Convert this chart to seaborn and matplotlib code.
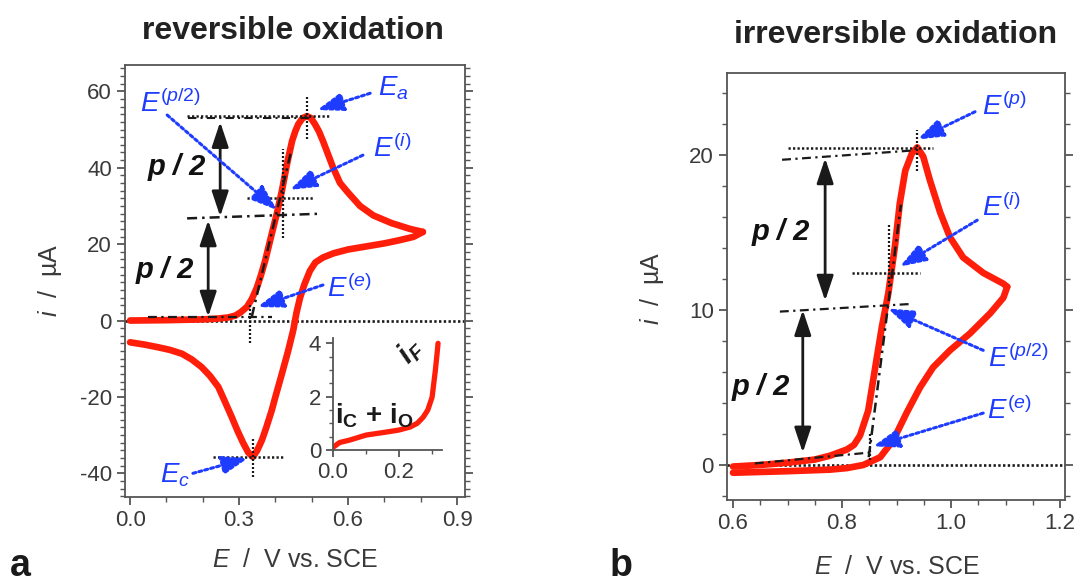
import matplotlib
matplotlib.use("Agg")
import matplotlib.pyplot as plt
import seaborn as sns
from matplotlib.ticker import MultipleLocator, FormatStrFormatter

# ---------------- data ----------------
# panel a : reversible oxidation (E in V vs SCE, i in uA)
a_fwd_E = [0.00, 0.05, 0.10, 0.15, 0.20, 0.24, 0.27, 0.29, 0.305, 0.322, 0.335, 0.349, 0.36,
           0.372, 0.39, 0.404, 0.418, 0.432, 0.446, 0.455, 0.463, 0.475, 0.487, 0.498, 0.509,
           0.52, 0.531, 0.545, 0.559, 0.578, 0.60, 0.633, 0.67, 0.72, 0.77, 0.806]
a_fwd_i = [0.0, 0.05, 0.1, 0.2, 0.3, 0.5, 0.8, 1.3, 2.2, 3.6, 5.6, 8.6, 11.8,
           15.7, 22.7, 28.0, 34.0, 41.0, 47.0, 49.6, 51.4, 53.0, 53.5, 53.0, 51.4,
           49.5, 47.0, 43.5, 40.0, 36.0, 33.5, 30.0, 27.5, 25.5, 24.0, 23.2]
a_rev_E = [0.806, 0.78, 0.74, 0.70, 0.65, 0.60, 0.56, 0.531, 0.51, 0.495, 0.48, 0.468, 0.458,
           0.449, 0.435, 0.418, 0.40, 0.39, 0.375, 0.363, 0.35, 0.338, 0.325, 0.311, 0.295,
           0.28, 0.26, 0.243, 0.22, 0.197, 0.17, 0.143, 0.11, 0.077, 0.04, 0.0]
a_rev_i = [23.2, 21.9, 21.0, 20.2, 19.4, 18.6, 17.6, 16.5, 15.2, 13.0, 9.5, 6.0, 2.0,
           -2.6, -8.0, -13.9, -20.0, -23.5, -28.0, -31.3, -34.0, -35.7, -34.5, -32.0, -28.7,
           -25.3, -21.0, -17.4, -14.5, -12.2, -10.2, -8.7, -7.7, -7.0, -6.3, -5.7]
# inset of panel a : i_C + i_O and i_F
ins_E = [0.0, 0.02, 0.05, 0.10, 0.16, 0.20, 0.233, 0.255, 0.273, 0.287, 0.30, 0.31, 0.315, 0.318]
ins_i = [0.1, 0.28, 0.37, 0.56, 0.67, 0.75, 0.86, 1.0, 1.23, 1.5, 1.98, 3.0, 3.6, 4.0]

# panel b : irreversible oxidation
b_fwd_E = [0.60, 0.65, 0.70, 0.75, 0.778, 0.809, 0.822, 0.833, 0.848, 0.86, 0.873, 0.885, 0.897,
           0.906, 0.916, 0.928, 0.938, 0.949, 0.961, 0.98, 0.998, 1.022, 1.059, 1.096, 1.103]
b_fwd_i = [-0.1, 0.0, 0.15, 0.35, 0.6, 1.0, 1.3, 1.9, 3.5, 6.1, 8.9, 11.1, 14.1,
           16.9, 19.0, 20.1, 20.5, 19.9, 18.4, 16.3, 14.7, 13.4, 12.4, 11.7, 11.5]
b_rev_E = [1.103, 1.096, 1.072, 1.035, 0.998, 0.967, 0.943, 0.919, 0.894, 0.87, 0.839, 0.809,
           0.778, 0.70, 0.60]
b_rev_i = [11.5, 10.8, 9.8, 8.5, 7.4, 6.3, 5.0, 3.4, 1.6, 0.5, 0.0, -0.2, -0.3, -0.4, -0.5]

a_xticks = [0.0, 0.3, 0.6, 0.9]
a_yticks = [-40, -20, 0, 20, 40, 60]
b_xticks = [0.6, 0.8, 1.0, 1.2]
b_yticks = [0, 10, 20]
ins_xticks = [0.0, 0.2]
ins_yticks = [0, 2, 4]

titles = ["reversible oxidation", "irreversible oxidation"]
xlab = r"$E$  /  V vs. SCE"
ylab = r"$i$  /  µA"

# ---------------- style ----------------
sns.set_theme(style="ticks")
plt.rcParams["font.family"] = ["Liberation Sans", "DejaVu Sans"]
plt.rcParams["mathtext.fontset"] = "custom"
plt.rcParams["mathtext.rm"] = "Liberation Sans"
plt.rcParams["mathtext.it"] = "Liberation Sans:italic"
plt.rcParams["mathtext.bf"] = "Liberation Sans:bold"
plt.rcParams["mathtext.sf"] = "Liberation Sans:bold:italic"
plt.rcParams["axes.unicode_minus"] = False

RED = "#FF1E0A"
BLUE = "#1E3CFF"
GREY = "#555555"
TXT = "#3a3a3a"
TICKFS = 16

W, H = 1076, 582
fig = plt.figure(figsize=(W / 100, H / 100), dpi=100)


def box(l, t, r, b):
    return [l / W, 1 - b / H, (r - l) / W, (b - t) / H]


axA = fig.add_axes(box(125, 65, 465, 497))
axB = fig.add_axes(box(727, 73, 1065, 500))
axI = fig.add_axes(box(333, 338, 442, 450))


def style(ax, right=True):
    for s in ax.spines.values():
        s.set_color(GREY)
        s.set_linewidth(1.3)
    ax.tick_params(which="both", direction="out", color=GREY, labelcolor=TXT,
                   labelsize=TICKFS, left=True, right=right, top=False, bottom=True)
    ax.tick_params(which="major", length=6, width=1.3)
    ax.tick_params(which="minor", length=3.5, width=1.0)


DOT = (0, (0.9, 0.9))
DASHDOT = (0, (4, 2, 1, 2))


def hline(ax, y, x0, x1, ls=DOT, lw=1.8, c="k", y1=None):
    ax.plot([x0, x1], [y, y if y1 is None else y1], ls=ls, lw=lw, color=c, zorder=4)


def vline(ax, x, y0, y1, ls=DOT, lw=1.6, c="k"):
    ax.plot([x, x], [y0, y1], ls=ls, lw=lw, color=c, zorder=4)


def barrow(ax, x, y0, y1):
    ax.annotate("", xy=(x, y1), xytext=(x, y0),
                arrowprops=dict(arrowstyle="<|-|>,head_length=0.9,head_width=0.3",
                                color="k", lw=2, shrinkA=0, shrinkB=0, mutation_scale=17),
                zorder=5)


def blue(ax, label, tx, ty, x0, y0, x1, y1, fs=20):
    ax.text(tx, ty, label, color=BLUE, fontsize=fs, ha="left", va="baseline", zorder=6)
    ax.annotate("", xy=(x1, y1), xytext=(x0, y0),
                arrowprops=dict(arrowstyle="-|>,head_length=1.0,head_width=0.35",
                                color=BLUE, lw=2.2, linestyle=(0, (1, 1)),
                                shrinkA=0, shrinkB=0, mutation_scale=16),
                zorder=6)


# ---------------- panel a ----------------
sns.lineplot(x=a_fwd_E, y=a_fwd_i, ax=axA, sort=False, estimator=None, color=RED, lw=4.8, zorder=3)
sns.lineplot(x=a_rev_E, y=a_rev_i, ax=axA, sort=False, estimator=None, color=RED, lw=4.8, zorder=3)
axA.set_xlim(-0.014, 0.922)
axA.set_ylim(-46.2, 66.9)
axA.set_xticks(a_xticks)
axA.set_yticks(a_yticks)
axA.xaxis.set_minor_locator(MultipleLocator(0.1))
axA.yaxis.set_minor_locator(MultipleLocator(2))
axA.xaxis.set_major_formatter(FormatStrFormatter("%.1f"))
axA.set_xlabel("")
axA.set_ylabel("")
style(axA)

pa = max(a_fwd_i)
Epa = a_fwd_E[a_fwd_i.index(pa)]
pc = min(a_rev_i)
Epc = a_rev_E[a_rev_i.index(pc)]

axA.axhline(0, ls=DOT, lw=1.9, color="k", zorder=2)
hline(axA, pa, 0.157, 0.55)
hline(axA, pa - 0.5, 0.16, 0.50, ls=DASHDOT, lw=1.5)
vline(axA, Epa, pa - 6, pa + 5.5)
hline(axA, pa / 2, 0.157, 0.52, ls=DASHDOT, lw=1.8, y1=pa / 2 + 1.2)
hline(axA, 32.1, 0.322, 0.504)
vline(axA, 0.421, 21.7, 45)
axA.plot([0.335, 0.445], [1.0, 45.0], ls=DASHDOT, lw=1.8, color="k", zorder=4)
hline(axA, 0.8, 0.05, 0.39, ls=DASHDOT, lw=1.6)
vline(axA, 0.33, -6, 4)
hline(axA, pc, 0.228, 0.421)
vline(axA, Epc, -41, -30.5)
barrow(axA, 0.248, pa - 1.5, pa / 2 + 0.5)
barrow(axA, 0.215, pa / 2 - 0.5, 1.0)
axA.text(0.047, 38.1, "p / 2", fontsize=21, fontweight="bold", style="italic", color="#111111", zorder=6)
axA.text(0.014, 11.1, "p / 2", fontsize=21, fontweight="bold", style="italic", color="#111111", zorder=6)

blue(axA, r"$E^{(p/2)}$", 0.028, 54.6, 0.102, 53.8, 0.405, 28.9)
blue(axA, r"$E_a$", 0.683, 59.0, 0.661, 59.5, 0.515, 55.1)
blue(axA, r"$E^{(i)}$", 0.669, 42.8, 0.641, 43.3, 0.44, 34.2)
blue(axA, r"$E^{(e)}$", 0.542, 6.2, 0.531, 9.3, 0.35, 3.5)
blue(axA, r"$E_c$", 0.083, -42.3, 0.173, -40.0, 0.325, -36.0)

# inset
sns.lineplot(x=ins_E, y=ins_i, ax=axI, sort=False, estimator=None, color=RED, lw=3.8)
axI.set_xlim(0, 0.33)
axI.set_ylim(0, 4.2)
axI.set_xticks(ins_xticks)
axI.set_yticks(ins_yticks)
axI.xaxis.set_minor_locator(MultipleLocator(0.1))
axI.yaxis.set_minor_locator(MultipleLocator(0.5))
axI.xaxis.set_major_formatter(FormatStrFormatter("%.1f"))
axI.set_xlabel("")
axI.set_ylabel("")
axI.patch.set_alpha(0)
style(axI, right=False)
axI.spines["top"].set_visible(False)
axI.spines["right"].set_visible(False)
axI.tick_params(which="major", length=5)
axI.tick_params(which="minor", length=3)
axI.text(0.005, 1.0, r"$\mathbf{i_{C}}$ + $\mathbf{i_{O}}$", fontsize=20, fontweight="bold",
         ha="left", va="baseline", color="#1a1a1a")
axI.text(0.235, 3.72, r"$\mathsf{i_{F}}$", fontsize=21, ha="center", va="center",
         rotation=45, color="#1a1a1a")

# ---------------- panel b ----------------
sns.lineplot(x=b_fwd_E, y=b_fwd_i, ax=axB, sort=False, estimator=None, color=RED, lw=4.8, zorder=3)
sns.lineplot(x=b_rev_E, y=b_rev_i, ax=axB, sort=False, estimator=None, color=RED, lw=4.8, zorder=3)
axB.set_xlim(0.589, 1.209)
axB.set_ylim(-2.26, 25.3)
axB.set_xticks(b_xticks)
axB.set_yticks(b_yticks)
axB.xaxis.set_minor_locator(MultipleLocator(0.05))
axB.yaxis.set_minor_locator(MultipleLocator(2))
axB.xaxis.set_major_formatter(FormatStrFormatter("%.1f"))
axB.set_xlabel("")
axB.set_ylabel("")
style(axB)

pb = max(b_fwd_i)
Epb = b_fwd_E[b_fwd_i.index(pb)]
axB.axhline(0, ls=DOT, lw=1.9, color="k", zorder=2)
hline(axB, pb - 0.05, 0.70, 0.967)
hline(axB, 19.7, 0.69, 0.93, ls=DASHDOT, lw=1.6, y1=20.3)
vline(axB, Epb, 19.0, 21.6)
hline(axB, 9.9, 0.686, 0.93, ls=DASHDOT, lw=1.6, y1=10.4)
hline(axB, 12.4, 0.818, 0.943)
vline(axB, 0.886, 11.5, 15.6)
axB.plot([0.849, 0.908], [0.5, 16.8], ls=DASHDOT, lw=1.8, color="k", zorder=4)
hline(axB, 0.1, 0.64, 0.85, ls=DASHDOT, lw=1.6, y1=0.8)
vline(axB, 0.851, 0.3, 2.0)
barrow(axB, 0.769, 19.8, 10.6)
barrow(axB, 0.728, 10.0, 0.8)
axB.text(0.635, 14.5, "p / 2", fontsize=21, fontweight="bold", style="italic", color="#111111", zorder=6)
axB.text(0.598, 4.5, "p / 2", fontsize=21, fontweight="bold", style="italic", color="#111111", zorder=6)

blue(axB, r"$E^{(p)}$", 1.057, 22.6, 1.044, 22.8, 0.938, 21.0)
blue(axB, r"$E^{(i)}$", 1.057, 16.1, 1.048, 15.8, 0.906, 12.8)
blue(axB, r"$E^{(p/2)}$", 1.068, 6.3, 1.059, 7.4, 0.884, 10.1)
blue(axB, r"$E^{(e)}$", 1.066, 3.0, 1.059, 3.35, 0.857, 1.2)

# ---------------- figure texts ----------------
fig.text(293 / W, 1 - 31 / H, titles[0], fontsize=23, fontweight="bold", color="#222222",
         ha="center", va="center")
fig.text(896 / W, 1 - 35 / H, titles[1], fontsize=23, fontweight="bold", color="#222222",
         ha="center", va="center")
fig.text(295 / W, 1 - 560 / H, xlab, fontsize=18, color=TXT, ha="center", va="center")
fig.text(897 / W, 1 - 567 / H, xlab, fontsize=18, color=TXT, ha="center", va="center")
fig.text(50 / W, 1 - 280 / H, ylab, fontsize=18, color=TXT, ha="center", va="center", rotation=90)
fig.text(652 / W, 1 - 288 / H, ylab, fontsize=18, color=TXT, ha="center", va="center", rotation=90)
fig.text(10 / W, 1 - 576 / H, "a", fontsize=27, fontweight="bold", color="k", ha="left", va="baseline")
fig.text(610 / W, 1 - 576 / H, "b", fontsize=27, fontweight="bold", color="k", ha="left", va="baseline")

fig.savefig("out.png", dpi=100, facecolor="white")
